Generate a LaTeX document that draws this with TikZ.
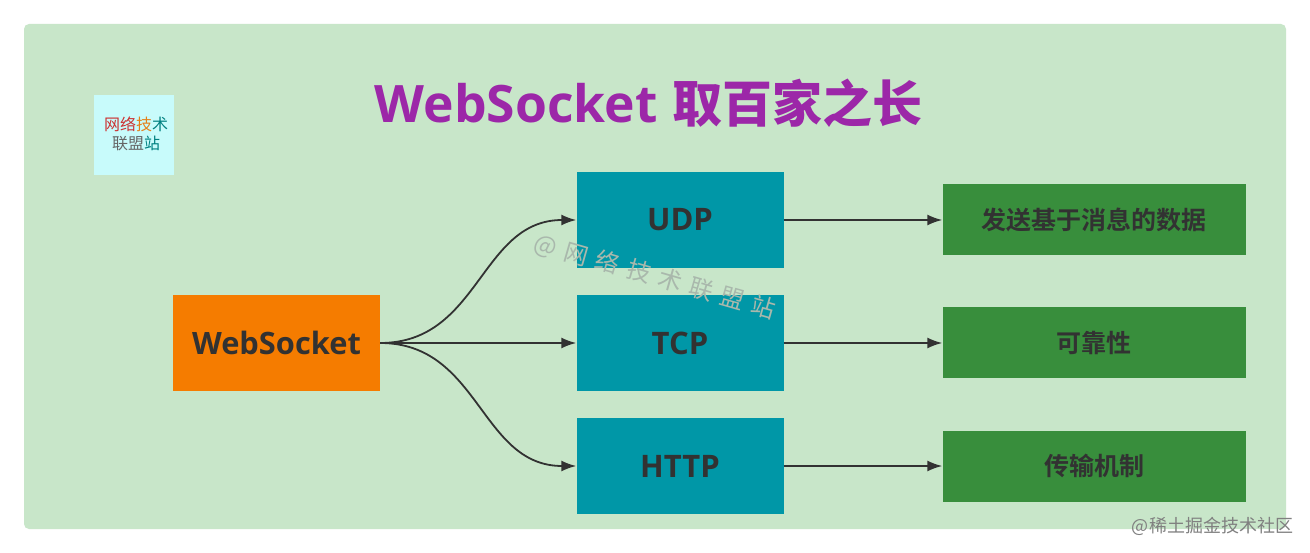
\documentclass[tikz,border=0pt]{standalone}
\usepackage{fontspec}
\setmainfont{Noto Sans CJK SC}
\newfontfamily\latinb{Open Sans}[BoldFont={Open Sans Bold}]
\newfontfamily\cjkb{Noto Sans CJK SC Bold}
\newfontfamily\cjkr{Noto Sans CJK SC}
\definecolor{bgc}{HTML}{C8E6C9}
\definecolor{orangec}{HTML}{F57C00}
\definecolor{tealc}{HTML}{0097A7}
\definecolor{greenc}{HTML}{388E3C}
\definecolor{purplec}{HTML}{9C27A8}
\definecolor{inkc}{HTML}{323232}
\definecolor{logoc}{HTML}{C8FBFB}
\definecolor{markc}{HTML}{A9B8AC}
\usetikzlibrary{arrows.meta}
\tikzset{
  box/.style={draw=none,minimum height=#1,inner sep=0pt,text=inkc},
  proto/.style={box=96pt,minimum width=207pt,fill=tealc,font=\fontsize{31}{34}\selectfont\latinb\bfseries},
  res/.style={box=71pt,minimum width=303pt,fill=greenc,font=\fontsize{25}{28}\selectfont\cjkb},
  conn/.style={draw=inkc,line width=1.8pt,-{Latex[length=15pt,width=11pt]}},
  wm/.style={inner sep=0pt,text=markc,font=\fontsize{24}{28}\selectfont\cjkr,rotate=-16},
}
\begin{document}
\begin{tikzpicture}[x=1pt,y=-1pt]
\useasboundingbox (0,0) rectangle (1310,553);
\fill[white] (0,0) rectangle (1310,553);
\fill[bgc,rounded corners=5pt] (24,24) rectangle (1286,529);
\node[inner sep=0pt,text=purplec] (title) at (648.5,103) {\fontsize{51.6}{60}\selectfont\latinb\bfseries WebSocket\hspace{0.28em}\fontsize{50}{60}\selectfont\cjkb 取百家之长};
\fill[logoc] (94,95) rectangle (174,175);
\node[inner sep=0pt,text=inkc!75,align=center,font=\fontsize{16}{19}\selectfont\cjkr] (logo) at (136,133.5) {\textcolor{red!60!gray}{网络}\textcolor{orange!80!gray}{技}\textcolor{teal}{术}\\联盟\textcolor{teal}{站}};
\node[box=96pt,minimum width=207pt,fill=orangec,font=\fontsize{30.8}{34}\selectfont\latinb\bfseries] (ws) at (276.5,343) {WebSocket};
\node[proto] (udp) at (680,220) {UDP};
\node[proto] (tcp) at (680,343) {TCP};
\node[proto] (http) at (680,466) {HTTP};
\node[res] (r1) at (1094,220) {发送基于消息的数据};
\node[res] (r2) at (1094,343) {可靠性};
\node[res] (r3) at (1094,466) {传输机制};
\draw[conn] (ws.east) .. controls (480,343) and (480,220) .. (udp.west);
\draw[conn] (ws.east) -- (tcp.west);
\draw[conn] (ws.east) .. controls (480,343) and (480,466) .. (http.west);
\draw[conn] (udp) -- (r1);
\draw[conn] (tcp) -- (r2);
\draw[conn] (http) -- (r3);
\node[wm] (mark) at (655,277) {@\hspace{0.35em}网\hspace{0.35em}络\hspace{0.35em}技\hspace{0.35em}术\hspace{0.35em}联\hspace{0.35em}盟\hspace{0.35em}站};
\node[inner sep=0pt,text=black!50,font=\fontsize{18}{20}\selectfont\cjkr] (credit) at (1212.5,526) {@稀土掘金技术社区};
\end{tikzpicture}
\end{document}
